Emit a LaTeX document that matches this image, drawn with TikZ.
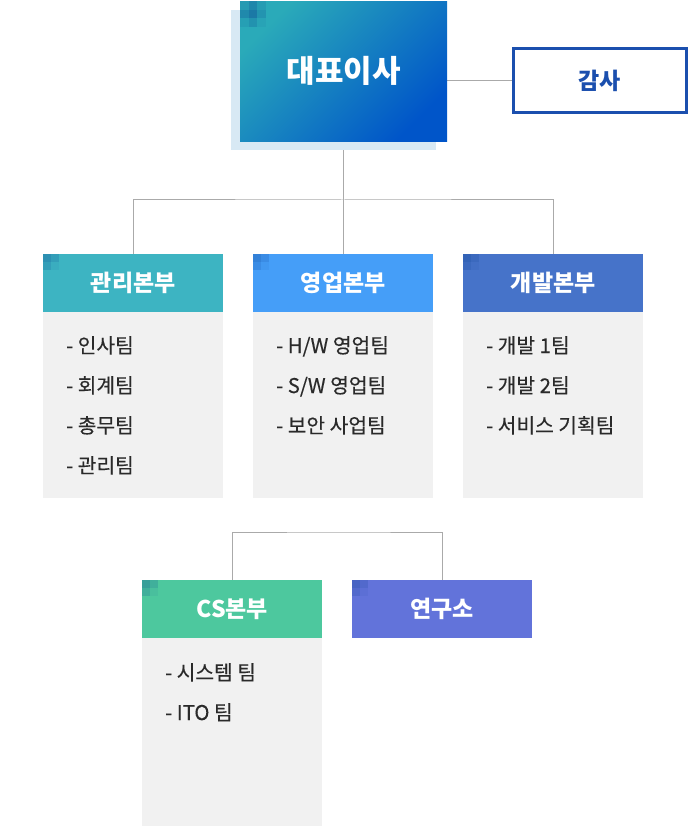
\documentclass[tikz,border=0pt]{standalone}
\usepackage{fontspec}
\setmainfont{Noto Sans CJK KR}
\newfontfamily\itemfont{Noto Sans CJK KR}[FakeBold=0.35]
\usetikzlibrary{backgrounds}
\definecolor{gradA}{HTML}{2AAAB9}
\definecolor{gradB}{HTML}{0055C9}
\definecolor{shadowc}{HTML}{D8E9F4}
\definecolor{gamsac}{HTML}{1B4FAE}
\definecolor{cA}{HTML}{3DB4C2}
\definecolor{cB}{HTML}{459EF8}
\definecolor{cC}{HTML}{4673C9}
\definecolor{cD}{HTML}{4DC89E}
\definecolor{cE}{HTML}{6273DA}
\definecolor{bodyc}{HTML}{F1F1F1}
\definecolor{txt}{HTML}{2A2A2A}
\definecolor{linec}{HTML}{AAAAAA}
\definecolor{mosc}{HTML}{0A3F8F}
\newcommand\hmos[2]{\foreach \i/\j/\o in {0/0/.30,1/0/.18,0/1/.18,1/1/.06}{\fill[mosc,opacity=\o] ({#1+\i*8},{#2+\j*8}) rectangle ++(8,8);}}
\begin{document}
\begin{tikzpicture}[x=1pt,y=-1pt,
  hdr/.style={anchor=north west, minimum width=180pt, minimum height=58pt, inner sep=0pt, text=white, font=\bfseries\fontsize{23}{26}\selectfont},
  bodybox/.style={anchor=north west, fill=bodyc, minimum width=180pt, inner sep=0pt},
  item/.style={anchor=base west, inner sep=0pt, text=txt, font=\itemfont\fontsize{20.3}{23}\selectfont},
  conn/.style={draw=linec, line width=1pt}]
\useasboundingbox (0,0) rectangle (687,826);
% top box with shadow
\fill[shadowc] (231,10) rectangle (436,150);
\node[anchor=north west, minimum width=207pt, minimum height=140pt, inner sep=0pt,
  top color=gradA, bottom color=gradB, shading angle=45,
  text=white, font=\bfseries\fontsize{31}{34}\selectfont] (top) at (240,1) {대표이사};
\foreach \i/\j/\o in {0/0/.15,1/0/.32,2/0/.12,0/1/.30,1/1/.45,2/1/.20,0/2/.10,1/2/.22,2/2/.06}
  {\fill[mosc,opacity=\o] ({240+\i*8.67},{1+\j*8.67}) rectangle ++(8.67,8.67);}
% audit
\node[anchor=north west, minimum width=173pt, minimum height=64pt, inner sep=0pt,
  draw=gamsac, line width=3pt, fill=white, text=gamsac,
  font=\bfseries\fontsize{23}{26}\selectfont] (gamsa) at (511.5,47.5) {감사};
% headers
\node[hdr, fill=cA] (h1) at (43,254) {관리본부};
\node[hdr, fill=cB] (h2) at (253,254) {영업본부};
\node[hdr, fill=cC] (h3) at (463,254) {개발본부};
\node[hdr, fill=cD] (h4) at (142,580) {CS본부};
\node[hdr, fill=cE] (h5) at (352,580) {연구소};
\hmos{43}{254}\hmos{253}{254}\hmos{463}{254}\hmos{142}{580}\hmos{352}{580}
% bodies
\node[bodybox, minimum height=186pt] (b1) at (43,312) {};
\node[bodybox, minimum height=186pt] (b2) at (253,312) {};
\node[bodybox, minimum height=186pt] (b3) at (463,312) {};
\node[bodybox, minimum height=188pt] (b4) at (142,638) {};
% items
\node[item] (i11) at (66,353) {- 인사팀};
\node[item] (i12) at (66,393) {- 회계팀};
\node[item] (i13) at (66,433) {- 총무팀};
\node[item] (i14) at (66,473) {- 관리팀};
\node[item] (i21) at (276,353) {- H/W 영업팀};
\node[item] (i22) at (276,393) {- S/W 영업팀};
\node[item] (i23) at (276,433) {- 보안 사업팀};
\node[item] (i31) at (486,353) {- 개발 1팀};
\node[item] (i32) at (486,393) {- 개발 2팀};
\node[item] (i33) at (486,433) {- 서비스 기획팀};
\node[item] (i41) at (165,680) {- 시스템 팀};
\node[item] (i42) at (165,720) {- ITO 팀};
% connectors
\coordinate (j) at (343,200);
\coordinate (k) at (340,532);
\begin{scope}[on background layer]
\draw[conn] (top.south -| j) -- (j);
\draw[conn] (h1.north) |- (j) -| (h3.north);
\draw[conn] (j) -- (j |- h2.north);
\draw[conn] (gamsa.west) -- (gamsa.west -| top.east);
\draw[conn] (h4.north) |- (k) -| (h5.north);
\end{scope}
\end{tikzpicture}
\end{document}
